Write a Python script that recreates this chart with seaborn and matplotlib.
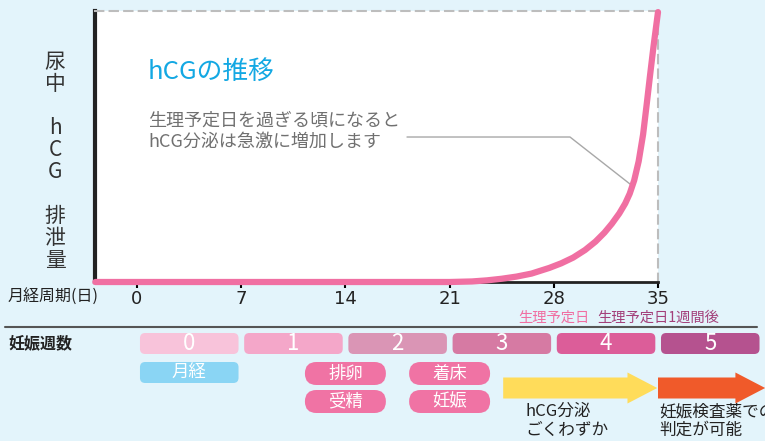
import numpy as np
import pandas as pd
import seaborn as sns
import matplotlib.pyplot as plt
from matplotlib.patches import FancyBboxPatch, FancyArrow

# hCG curve (day of cycle, relative amount 0-100)
days = [-2.8, 0, 7, 14, 21, 22.5, 23.5, 24.5, 25.5, 26.5, 27.7, 28.5, 29.3, 30.1, 30.8, 31.4, 31.9,
        32.4, 32.8, 33.1, 33.4, 33.7, 34.0, 34.25, 34.46, 34.7, 35]
hcg = [0, 0, 0, 0, 0, 0.2, 0.6, 1.2, 2.0, 3.1, 5.2, 6.9, 9.0, 11.8, 14.9, 18.2, 21.5,
       25.3, 29.0, 32.6, 37.5, 44.5, 54.5, 66, 76, 87, 99.6]
day_ticks = [0, 7, 14, 21, 28, 35]

# weeks of pregnancy
weeks = [0, 1, 2, 3, 4, 5]
week_colors = ['#F8C3DA', '#F4A7C9', '#DA95B5', '#D67AA3', '#DC5D99', '#B5528F']

# events
mark_days = [28, 35]
mark_labels = ['生理予定日', '生理予定日1週間後']
mark_colors = ['#F06FA2', '#A3407A']
pill_days = [14, 21]
pill_top = ['排卵', '着床']
pill_bottom = ['受精', '妊娠']
arrow_spans = [(24.6, 34.95), (35.0, 42.2)]
arrow_colors = ['#FFDC5A', '#F05A2A']
arrow_texts = ['hCG分泌\nごくわずか', '妊娠検査薬での\n判定が可能']

sns.set_theme(style='white')
plt.rcParams['font.family'] = ['Noto Sans CJK JP', 'DejaVu Sans']

W, H = 765, 441
PX_DAY = (658 - 137) / 35.0
bg = '#E3F4FB'

fig = plt.figure(figsize=(W / 100, H / 100), dpi=100)
fig.patch.set_facecolor(bg)

# main chart
ax = fig.add_axes([95 / W, (H - 282) / H, 563 / W, 271 / H])
ax.set_facecolor('white')
df = pd.DataFrame({'day': days, 'hcg': hcg})
sns.lineplot(data=df, x='day', y='hcg', ax=ax, color='#F06FA2', lw=4.5,
             clip_on=False, zorder=5)
ax.set_xlim(-42 / PX_DAY, 35)
ax.set_ylim(0, 100)
ax.set_xticks(day_ticks)
ax.set_xticklabels([str(d) for d in day_ticks], fontsize=13, color='#222222',
                   family=['Liberation Sans Narrow', 'DejaVu Sans'])
ax.set_yticks([])
ax.set_xlabel('')
ax.set_ylabel('')
ax.tick_params(axis='x', direction='out', length=4, width=1.5, color='black', pad=2, bottom=True)
ax.spines['left'].set_color('#222222')
ax.spines['left'].set_linewidth(3)
ax.spines['bottom'].set_color('#222222')
ax.spines['bottom'].set_linewidth(2)
for s in ['top', 'right']:
    ax.spines[s].set_color('#BDBDBD')
    ax.spines[s].set_linewidth(1.5)
    ax.spines[s].set_linestyle((0, (4, 3)))

ax.text(0.094, 0.775, 'hCGの推移', transform=ax.transAxes, fontsize=18.5,
        color='#13A8E3', ha='left', va='center')
ax.text(0.094, (282 - 131) / 271, '生理予定日を過ぎる頃になると\nhCG分泌は急激に増加します',
        transform=ax.transAxes, fontsize=13, color='#707070', ha='left', va='center',
        linespacing=1.25)
ax.plot([(407 - 137) / PX_DAY, (570 - 137) / PX_DAY, 33.2], [53.5, 53.5, 35.8],
        color='#A8A8A8', lw=1, zorder=4)

fig.text(55 / W, 1 - 161.5 / H, '尿\n中\n\nh\nC\nG\n\n排\n泄\n量', ha='center', va='center',
         fontsize=15, color='#333333', linespacing=1.0)
fig.text(8 / W, 1 - 297 / H, '月経周期(日)', ha='left', va='center', fontsize=11.5, color='#222222')

# lower panel: x in days, y in pixel rows
bx = fig.add_axes([0, 0, 1, 141 / H])
bx.set_xlim(-137 / PX_DAY, (W - 137) / PX_DAY)
bx.set_ylim(H, 300)
bx.axis('off')

for d, lab, c in zip(mark_days, mark_labels, mark_colors):
    bx.text(d, 318, lab, ha='center', va='center', fontsize=10.3, color=c)

bx.plot([(5 - 137) / PX_DAY, (757 - 137) / PX_DAY], [327, 327], color='#555555', lw=1.5)
bx.text(-129 / PX_DAY, 343, '妊娠週数', ha='left', va='center', fontsize=11.5,
        color='#222222', fontweight='bold')

for w, c in zip(weeks, week_colors):
    x0 = 7 * w + 0.2
    bx.add_patch(FancyBboxPatch((x0, 333), 6.62, 21,
                                boxstyle='round,pad=0,rounding_size=0.35',
                                mutation_aspect=PX_DAY, fc=c, ec='none'))
    bx.text(x0 + 3.31, 344, str(w), ha='center', va='center', fontsize=16, color='white')

# menstruation box
bx.add_patch(FancyBboxPatch((0.2, 362), 6.62, 21, boxstyle='round,pad=0,rounding_size=0.35',
                            mutation_aspect=PX_DAY, fc='#8AD5F4', ec='none'))
bx.text(3.51, 373, '月経', ha='center', va='center', fontsize=12.5, color='white')

for d, t1, t2 in zip(pill_days, pill_top, pill_bottom):
    for y0, t in [(362, t1), (390, t2)]:
        bx.add_patch(FancyBboxPatch((d - 2.72, y0), 5.44, 23,
                                    boxstyle='round,pad=0,rounding_size=0.77',
                                    mutation_aspect=PX_DAY, fc='#F073A4', ec='none'))
        bx.text(d, y0 + 11.5, t, ha='center', va='center', fontsize=12.5, color='white')

for (a, b), c, t in zip(arrow_spans, arrow_colors, arrow_texts):
    bx.add_patch(FancyArrow(a, 388, b - a, 0, width=21, head_width=31, head_length=2.0,
                            length_includes_head=True, fc=c, ec='none'))
    bx.text(a + 1.5 if a < 30 else a + 0.1, 421, t, ha='left', va='center', fontsize=12,
            color='#222222', linespacing=1.15)

fig.savefig('out.png', dpi=100, facecolor=bg)
